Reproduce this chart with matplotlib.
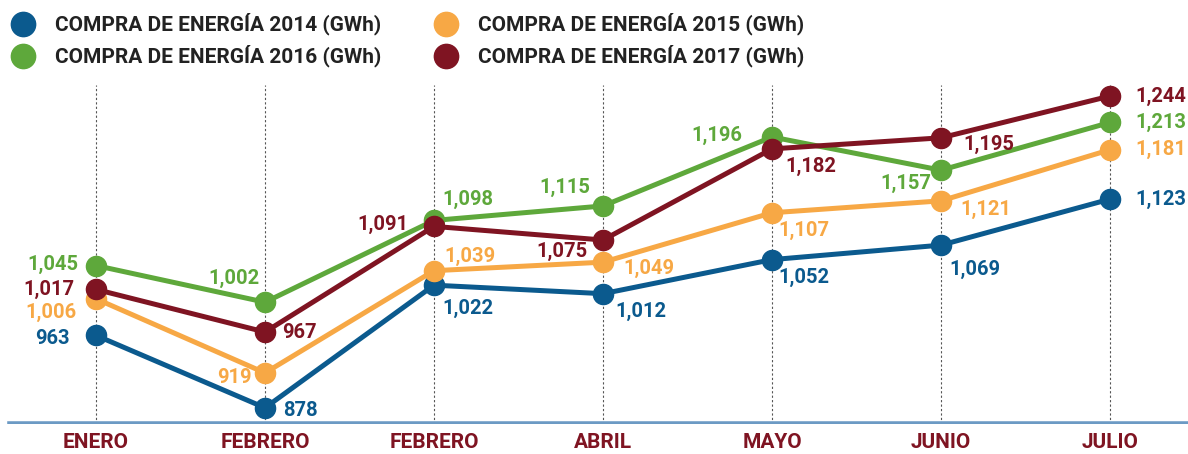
import numpy as np
import matplotlib
matplotlib.use("Agg")
from matplotlib import pyplot as plt
from matplotlib.lines import Line2D

plt.rcParams['font.family'] = ['Roboto', 'DejaVu Sans']

meses = ["ENERO", "FEBRERO", "FEBRERO", "ABRIL", "MAYO", "JUNIO", "JULIO"]

compra_2014 = [963, 878, 1022, 1012, 1052, 1069, 1123]
compra_2015 = [1006, 919, 1039, 1049, 1107, 1121, 1181]
compra_2016 = [1045, 1002, 1098, 1115, 1196, 1157, 1213]
compra_2017 = [1017, 967, 1091, 1075, 1182, 1195, 1244]

nombres = ["COMPRA DE ENERGÍA 2014 (GWh)", "COMPRA DE ENERGÍA 2015 (GWh)",
           "COMPRA DE ENERGÍA 2016 (GWh)", "COMPRA DE ENERGÍA 2017 (GWh)"]

azul = "#0b5a8e"
naranja = "#f7a845"
verde = "#5ea83b"
rojo = "#7f1422"

# decalage des etiquettes (pixels, x vers la droite, y vers le haut) et alignement
off_2014 = [(-26, -3, "right"), (18, -3, "left"), (8, -23, "left"), (12, -18, "left"),
            (6, -18, "left"), (8, -24, "left"), (25, 0, "left")]
off_2015 = [(-19, -14, "right"), (-13, -5, "right"), (10, 14, "left"), (20, -6, "left"),
            (6, -18, "left"), (19, -9, "left"), (25, 0, "left")]
off_2016 = [(-18, 1, "right"), (-5, 24, "right"), (8, 21, "left"), (-13, 19, "right"),
            (-30, 2, "right"), (-10, -13, "right"), (25, 0, "left")]
off_2017 = [(-21, 0, "right"), (17, 0, "left"), (-26, 2, "right"), (-15, -11, "right"),
            (13, -18, "left"), (22, -7, "left"), (25, 0, "left")]

series = [(compra_2014, azul, off_2014), (compra_2015, naranja, off_2015),
          (compra_2016, verde, off_2016), (compra_2017, rojo, off_2017)]

fig = plt.figure(figsize=(11.88, 4.54), dpi=100)
ax = fig.add_axes([0.0, 30 / 454, 1.0, (424 - 85) / 454])

x = np.arange(len(meses))
x0 = -96 / 169.0
ax.set_xlim(x0, x0 + 1188 / 169.0)
ax.set_ylim(859, 1257)

for xi in x:
    ax.axvline(xi, color="#555555", lw=0.8, ls=(0, (2, 2)), zorder=1)

for vals, col, offs in series:
    ax.plot(x, vals, color=col, lw=3.6, marker="o", ms=14.5, zorder=3)
    for xi, v, (dx, dy, ha) in zip(x, vals, offs):
        ax.annotate(f"{v:,}", (xi, v), xytext=(dx, dy), textcoords="offset pixels",
                    ha=ha, va="center", color=col, fontsize=14.5, fontweight="bold")

ax.axhline(859, xmin=10 / 1188, color="#6c9ac4", lw=4, zorder=2)

for s in ax.spines.values():
    s.set_visible(False)
ax.set_xticks([])
ax.set_yticks([])

for xi, m in zip(x, meses):
    ax.text(xi, -19 / 339, m, transform=ax.get_xaxis_transform(), ha="center", va="center",
            color=rojo, fontsize=15, fontweight="bold")

# legende
leg_pos = [(23, 24), (446, 24), (23, 56), (446, 56)]
for (px, py), nom, (vals, col, offs) in zip(leg_pos, nombres, series):
    fig.add_artist(Line2D([px / 1188], [1 - py / 454], marker="o", ms=17.5, color=col,
                          transform=fig.transFigure))
    fig.text((px + 32) / 1188, 1 - py / 454, nom, ha="left", va="center",
             color="#222222", fontsize=15, fontweight="bold")

fig.savefig("out.png", dpi=100)
